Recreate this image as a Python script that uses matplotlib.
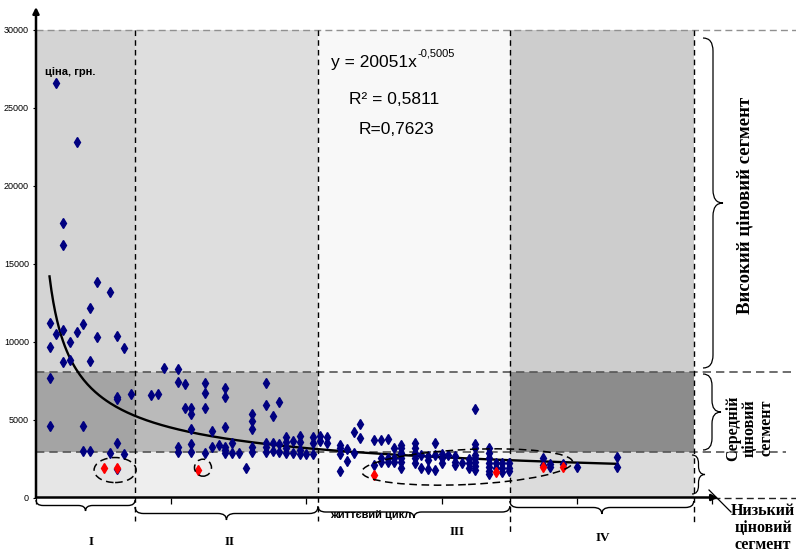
import numpy as np
import matplotlib
matplotlib.use("Agg")
import matplotlib.pyplot as plt
from matplotlib.path import Path
from matplotlib.patches import PathPatch, Rectangle, Ellipse
from matplotlib.transforms import Affine2D, IdentityTransform

# ---------------- data ----------------
region_bounds = [0, 14.65, 41.7, 70.1, 97.3]
segment_bounds = [0, 2900, 8050, 30000]
region_labels = ["I", "II", "III", "IV"]
high_label = "Високий ціновий сегмент"
mid_label = "Середній\nціновий\nсегмент"
low_label = "Низький\nціновий\nсегмент"
axis_label_y = "ціна, грн."
axis_label_x = "життєвий цикл"

# fill colours per region: (low, mid, high)
fill_colors = [("#e6e6e6", "#a4a4a4", "#d4d4d4"),
               ("#eeeeee", "#bababa", "#dedede"),
               ("#f8f8f8", "#f1f1f1", "#f8f8f8"),
               ("#dcdcdc", "#8c8c8c", "#cdcdcd")]

navy_x = [2, 2, 2, 2, 3, 3, 4, 4, 4, 4, 5, 5, 6, 6, 7, 7, 7, 8, 8, 8, 9, 9,
          11, 11, 12, 12, 12, 12, 12, 13, 13, 14,
          17, 18, 19, 21, 21, 21, 21, 22, 22, 23, 23, 23, 23, 23,
          25, 25, 25, 25, 26, 26, 27, 28, 28, 28, 28, 28, 28, 29, 29, 30, 31,
          32, 32, 32, 32, 32, 34, 34, 34, 34, 34, 35, 35, 35, 36, 36, 36,
          37, 37, 37, 37, 38, 38, 39, 39, 39, 39, 40, 41, 41, 41,
          42, 42, 43, 43, 45, 45, 45, 45, 46, 46, 47, 47, 48, 48, 50, 50,
          51, 51, 51, 52, 52, 52, 53, 53, 53, 54, 54, 54, 54, 54, 54,
          56, 56, 56, 56, 56, 57, 57, 58, 58, 58, 59, 59, 59, 60, 60, 60, 61,
          62, 62, 62, 63, 64, 64, 64, 65, 65, 65, 65, 65, 65, 65, 65,
          67, 67, 67, 67, 67, 67, 67, 68, 68, 69, 69, 69, 70, 70, 70,
          75, 75, 76, 76, 78, 80, 86, 86]
navy_y = [11170, 9630, 7680, 4600, 26600, 10480, 17600, 16200, 10720, 8690,
          9970, 8790, 22800, 10590, 11120, 4600, 3000, 12130, 8770, 3000,
          13830, 10270,
          13190, 2870, 10350, 6460, 6290, 3470, 1800, 9560, 2810, 6630,
          6570, 6630, 8280, 8220, 7400, 3240, 2920, 7260, 5760,
          5760, 5330, 4410, 3410, 2920,
          7340, 6700, 5720, 2870, 4260, 3260, 3350, 7020, 6420, 4540, 3240, 3040, 2830,
          3490, 2870, 2870, 1910,
          5330, 4900, 4410, 3240, 2900, 7340, 5930, 3510, 3240, 2920, 5220, 3510, 2960,
          6120, 3400, 2920,
          3880, 3540, 3170, 2870, 3620, 2830, 3920, 3580, 3040, 2790, 2810, 3850, 3500, 2810,
          3940, 3620, 3860, 3510, 3370, 3150, 2770, 1720, 3090, 2360, 4180, 2830,
          4710, 3830, 3710, 2080,
          3710, 2510, 2300, 3770, 2510, 2300, 3150, 2510, 2280,
          3370, 3150, 2830, 2510, 2260, 1910,
          3470, 3150, 2830, 2510, 2190, 2700, 1890, 2660, 2400, 1810, 3470, 2720, 1760,
          2770, 2510, 2190, 2720,
          2660, 2300, 2110, 2230, 2490, 2190, 1870,
          5670, 3410, 3150, 2720, 2510, 2300, 2040, 1760,
          3150, 2830, 2510, 2190, 1970, 1720, 1510, 2190, 1870, 2190, 1870, 1650,
          2200, 1900, 1700,
          2510, 2080, 2150, 1970, 2150, 1970, 2620, 1970]
red_x = [10, 12, 24, 50, 68, 75, 78]
red_y = [1910, 1870, 1760, 1440, 1650, 1970, 1970]

trend_a = 20051
trend_b = -0.5005
trend_range = [2, 86]
eq_text = "y = 20051x"
eq_power = "-0,5005"
r2_text = "R² = 0,5811"
r_text = "R=0,7623"

y_ticks = [0, 5000, 10000, 15000, 20000, 25000, 30000]
x_ticks = [0, 20, 40, 60, 80, 100]

# ---------------- figure ----------------
W, H = 796, 554
SANS = ["Liberation Sans", "DejaVu Sans"]
SERIF = ["Liberation Serif", "DejaVu Serif"]
plt.rcParams["font.family"] = SANS

fig = plt.figure(figsize=(W / 100, H / 100), dpi=100)
fig.patch.set_facecolor("white")
x0p, y0p, sx, sy = 36.0, 497.5, 6.76, 0.0156
xmax = (718 - x0p) / sx
ymax = (y0p - 7) / sy
ax = fig.add_axes([x0p / W, (H - y0p) / H, (718 - x0p) / W, (y0p - 7) / H])
ax.set_xlim(0, xmax)
ax.set_ylim(0, ymax)
for s in ax.spines.values():
    s.set_visible(False)
ax.set_facecolor("none")

pix = Affine2D().scale(1, -1).translate(0, H)   # top-left pixel coords


def d2p(x, y):
    dx, dy = ax.transData.transform((x, y))
    return dx, H - dy


def p2d(px, py):
    return ax.transData.inverted().transform((px, H - py))


# region fills
for i in range(4):
    for j in range(3):
        ax.add_patch(Rectangle((region_bounds[i], segment_bounds[j]),
                               region_bounds[i + 1] - region_bounds[i],
                               segment_bounds[j + 1] - segment_bounds[j],
                               facecolor=fill_colors[i][j], edgecolor="none",
                               zorder=0, clip_on=False))

# horizontal dashed segment lines
x_right = p2d(W, 0)[0]
ax.plot([0, x_right], [segment_bounds[3]] * 2, color="#909090", lw=1.0,
        dashes=(5, 3), clip_on=False, zorder=1)
ax.plot([0, x_right], [segment_bounds[2]] * 2, color="#555555", lw=1.2,
        dashes=(5, 3), clip_on=False, zorder=1)
ax.plot([0, p2d(786, 0)[0]], [segment_bounds[1]] * 2, color="#555555", lw=1.2,
        dashes=(5, 3), clip_on=False, zorder=1)
ax.plot([p2d(713, 0)[0], x_right], [0, 0], color="#222222", lw=1.0,
        dashes=(5, 3), clip_on=False, zorder=1)

# vertical dashed region lines
bottoms = [521, 521, 535, 522]
for xb, pb in zip(region_bounds[1:], bottoms):
    ax.plot([xb, xb], [segment_bounds[3], p2d(0, pb)[1]], color="black",
            lw=1.0, dashes=(4, 3), clip_on=False, zorder=1)

# trend line
xs = np.linspace(trend_range[0], trend_range[1], 300)
ax.plot(xs, trend_a * xs ** trend_b, color="black", lw=1.7, zorder=4)

# points
ax.plot(navy_x, navy_y, linestyle="none", marker="d", ms=4.9,
        color="#000080", zorder=5)
ax.plot(red_x, red_y, linestyle="none", marker="d", ms=4.9,
        color="#ff0000", zorder=6)

# axes arrows
ax.annotate("", xy=(xmax, 0), xytext=(0, 0), annotation_clip=False,
            arrowprops=dict(arrowstyle="-|>", lw=1.8, color="black",
                            mutation_scale=9, shrinkA=0, shrinkB=0), zorder=7)
ax.annotate("", xy=(0, ymax), xytext=(0, 0), annotation_clip=False,
            arrowprops=dict(arrowstyle="-|>", lw=1.8, color="black",
                            mutation_scale=9, shrinkA=0, shrinkB=0), zorder=7)

ax.set_yticks(y_ticks)
ax.set_yticklabels([str(v) for v in y_ticks])
ax.tick_params(axis="y", length=2.5, width=0.8, pad=2.5, labelsize=6.5)
ax.set_xticks(x_ticks)
ax.set_xticklabels([])
ax.tick_params(axis="x", length=4.5, width=0.9)


# ellipses around red points
def ellipse(cx, cy, w, h, ang):
    px, py = ax.transData.transform((cx, cy))
    fig.add_artist(Ellipse((px, py), w, h, angle=ang, fill=False,
                           edgecolor="black", lw=1.1, linestyle=(0, (5, 3)),
                           transform=IdentityTransform(), zorder=8))


ellipse(11.7, 1760, 42, 25, 0)
ellipse(24.7, 1910, 17, 17, 0)
ellipse(63.8, 1955, 211, 35, 2.7)


# braces
def brace(p0, p1, depth, lw=1.0):
    p0 = np.array(p0, float)
    p1 = np.array(p1, float)
    v = p1 - p0
    L = np.hypot(*v)
    u = v / L
    n = np.array([-u[1], u[0]])
    h = depth / 2.0
    q = min(h * 1.3, L / 4)
    loc = [(0, 0), (0, h), (q, h), (L / 2 - q, h), (L / 2, h), (L / 2, 2 * h),
           (L / 2, h), (L / 2 + q, h), (L - q, h), (L, h), (L, 0)]
    codes = [Path.MOVETO, Path.CURVE3, Path.CURVE3, Path.LINETO, Path.CURVE3,
             Path.CURVE3, Path.CURVE3, Path.CURVE3, Path.LINETO, Path.CURVE3,
             Path.CURVE3]
    verts = [p0 + s * u + t * n for s, t in loc]
    fig.add_artist(PathPatch(Path(verts, codes), fill=False, edgecolor="black",
                             lw=lw, transform=pix, zorder=8))


tops = [500, 507, 506, 501]
depths = [11, 13, 12, 13]
for i in range(4):
    xa = d2p(region_bounds[i], 0)[0]
    xb = d2p(region_bounds[i + 1], 0)[0]
    brace((xa, tops[i]), (xb, tops[i]), depths[i])

# right braces (drawn bottom -> top so they bulge to the right)
brace((703, 368), (703, 38), 20, lw=0.9)
brace((703, 450), (703, 374), 18, lw=0.9)
brace((692, 494), (692, 455), 13, lw=0.9)
fig.add_artist(plt.Line2D([709, 731], [H - 490, H - 512], color="black",
                          lw=0.9, transform=IdentityTransform()))

# texts
fig.text(45, 72, axis_label_y, transform=pix, ha="left", va="center",
         fontsize=8, fontweight="bold", family=SANS)
fig.text(417, 63, eq_text, transform=pix, ha="right", va="center",
         fontsize=12.5, family=SANS)
fig.text(418, 53, eq_power, transform=pix, ha="left", va="center",
         fontsize=8, family=SANS)
fig.text(394, 99, r2_text, transform=pix, ha="center", va="center",
         fontsize=12.5, family=SANS)
fig.text(396, 129, r_text, transform=pix, ha="center", va="center",
         fontsize=12.5, family=SANS)

fig.text(745, 205, high_label, transform=pix, ha="center", va="center",
         rotation=90, fontsize=13.5, fontweight="bold", family=SERIF)
fig.text(750, 428, mid_label, transform=pix, ha="center", va="center",
         rotation=90, fontsize=11.5, fontweight="bold", family=SERIF,
         multialignment="center", linespacing=1.05)
fig.text(763, 528, low_label, transform=pix, ha="center", va="center",
         fontsize=11.5, fontweight="bold", family=SERIF,
         multialignment="center", linespacing=1.05)

for lab, (px, py) in zip(region_labels, [(91, 542), (230, 542), (457, 532), (603, 538)]):
    fig.text(px, py, lab, transform=pix, ha="center", va="center",
             fontsize=9.5, fontweight="bold", family=SERIF)
fig.text(371, 515, axis_label_x, transform=pix, ha="center", va="center",
         fontsize=8, fontweight="bold", family=SANS)

fig.savefig("out.png", dpi=100)
